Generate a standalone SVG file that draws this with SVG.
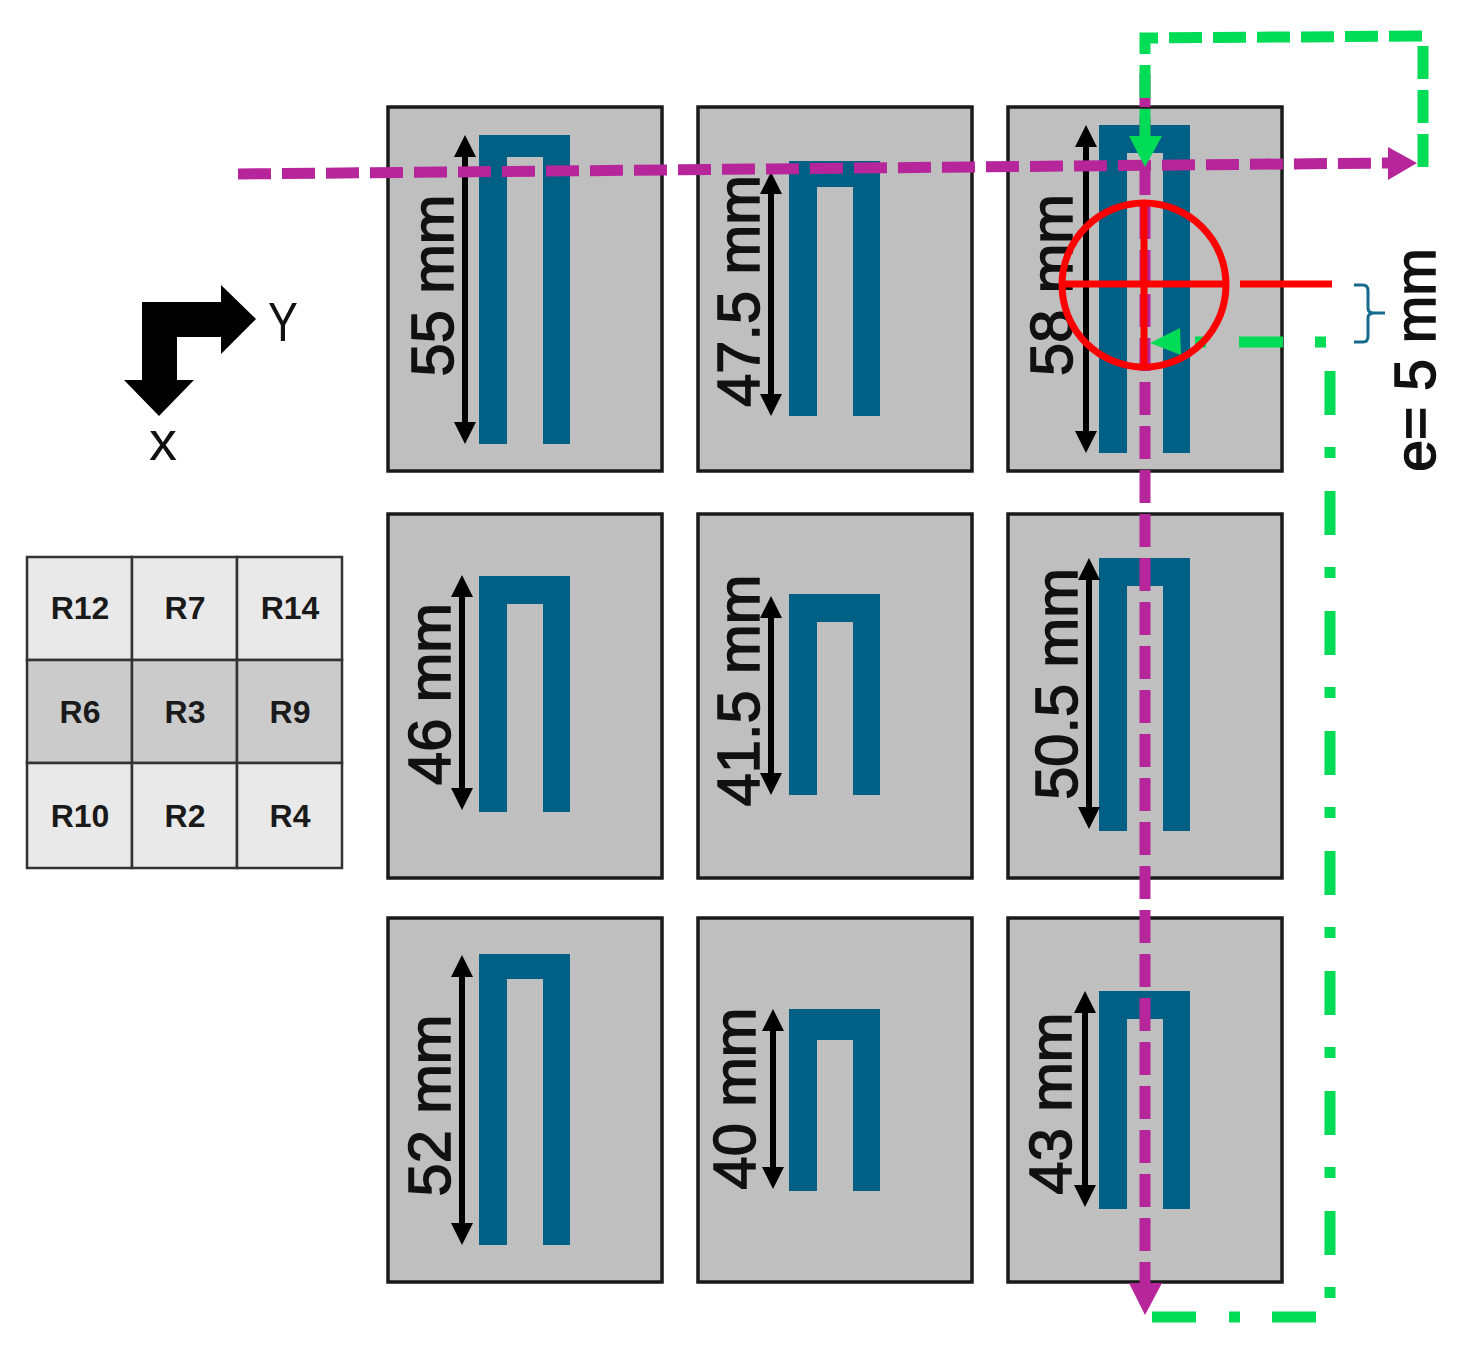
<svg xmlns="http://www.w3.org/2000/svg" width="1461" height="1348" viewBox="0 0 1461 1348">
<style>
.panel{fill:#bfbfbf;stroke:#1a1a1a;stroke-width:3.5}
.u{fill:#005f85}
.dim{fill:none;stroke:#000;stroke-width:6;marker-start:url(#dimHead);marker-end:url(#dimHead)}
.lab{font-family:"Liberation Sans",Arial,sans-serif;font-size:59.5px;fill:#111;stroke:#111;stroke-width:1.5;text-anchor:middle}
.axis{font-family:"Liberation Sans",Arial,sans-serif;font-size:56px;fill:#111}
.cell{stroke:#333;stroke-width:2.5}
.light{fill:#e9e9e9}
.dark{fill:#cbcbcb}
.rt{font-family:"Liberation Sans",Arial,sans-serif;font-size:32px;font-weight:700;fill:#1a1a1a;text-anchor:middle}
.purple{fill:none;stroke:#b7259a;stroke-width:11;stroke-dasharray:33 11}
.pf{fill:#b7259a}
.green{fill:none;stroke:#00dc55;stroke-width:11;stroke-dasharray:33 11}
.gdd{fill:none;stroke:#00dc55;stroke-width:11;stroke-dasharray:11 33 44 32}
.gf{fill:#00dc55}
.red{fill:none;stroke:#ff0000;stroke-width:7}
</style>
<defs>
<marker id="dimHead" markerUnits="userSpaceOnUse" markerWidth="24" markerHeight="24" refX="10" refY="12" orient="auto-start-reverse">
<path d="M0 1 L22 12 L0 23 Z" fill="#000"/>
</marker>
</defs>
<rect width="1461" height="1348" fill="#fff"/>

<g id="panel-r1c1"><rect class="panel" x="388" y="107" width="274" height="364"/><path class="u" d="M479 135H570V444H543V157H507V444H479Z"/><path class="dim" d="M465 147V432"/><text class="lab" transform="translate(453 285.5) rotate(-90)">55 mm</text></g>
<g id="panel-r1c2"><rect class="panel" x="698" y="107" width="274" height="364"/><path class="u" d="M789 161H880V416H853V187H817V416H789Z"/><path class="dim" d="M771 184V404"/><text class="lab" transform="translate(759 291) rotate(-90)">47.5 mm</text></g>
<g id="panel-r1c3"><rect class="panel" x="1008" y="107" width="274" height="364"/><path class="u" d="M1099 125H1190V453H1163V153H1127V453H1099Z"/><path class="dim" d="M1086 137V441"/><text class="lab" transform="translate(1072 285) rotate(-90)">58 mm</text></g>
<g id="panel-r2c1"><rect class="panel" x="388" y="514" width="274" height="364"/><path class="u" d="M479 576H570V812H543V604H507V812H479Z"/><path class="dim" d="M462 587V798"/><text class="lab" transform="translate(450 694) rotate(-90)">46 mm</text></g>
<g id="panel-r2c2"><rect class="panel" x="698" y="514" width="274" height="364"/><path class="u" d="M789 594H880V795H853V622H817V795H789Z"/><path class="dim" d="M771 608V783"/><text class="lab" transform="translate(759 690.5) rotate(-90)">41.5 mm</text></g>
<g id="panel-r2c3"><rect class="panel" x="1008" y="514" width="274" height="364"/><path class="u" d="M1099 558H1190V831H1163V586H1127V831H1099Z"/><path class="dim" d="M1089 570V817"/><text class="lab" transform="translate(1077 684) rotate(-90)">50.5 mm</text></g>
<g id="panel-r3c1"><rect class="panel" x="388" y="918" width="274" height="364"/><path class="u" d="M479 954H570V1245H543V979H507V1245H479Z"/><path class="dim" d="M462 967V1233"/><text class="lab" transform="translate(450 1105.5) rotate(-90)">52 mm</text></g>
<g id="panel-r3c2"><rect class="panel" x="698" y="918" width="274" height="364"/><path class="u" d="M789 1009H880V1191H853V1040H817V1191H789Z"/><path class="dim" d="M773 1021V1177"/><text class="lab" transform="translate(755 1098.5) rotate(-90)">40 mm</text></g>
<g id="panel-r3c3"><rect class="panel" x="1008" y="918" width="274" height="364"/><path class="u" d="M1099 991H1190V1209H1163V1019H1127V1209H1099Z"/><path class="dim" d="M1085 1003V1195"/><text class="lab" transform="translate(1071 1103.5) rotate(-90)">43 mm</text></g>

<g id="axes">
<path d="M142 302H221V285L256 319L221 354V337H177V380H194L159 416L124 380H142Z" fill="#000"/>
<text class="axis" transform="translate(268 341) scale(.8 1)">Y</text>
<text class="axis" x="149" y="460">x</text>
</g>

<g id="table">
<rect class="cell light" x="27" y="557" width="105" height="103"/><rect class="cell light" x="132" y="557" width="105" height="103"/><rect class="cell light" x="237" y="557" width="105" height="103"/>
<rect class="cell dark" x="27" y="660" width="105" height="103"/><rect class="cell dark" x="132" y="660" width="105" height="103"/><rect class="cell dark" x="237" y="660" width="105" height="103"/>
<rect class="cell light" x="27" y="763" width="105" height="105"/><rect class="cell light" x="132" y="763" width="105" height="105"/><rect class="cell light" x="237" y="763" width="105" height="105"/>
<text class="rt" x="80" y="619">R12</text><text class="rt" x="185" y="619">R7</text><text class="rt" x="290" y="619">R14</text>
<text class="rt" x="80" y="723">R6</text><text class="rt" x="185" y="723">R3</text><text class="rt" x="290" y="723">R9</text>
<text class="rt" x="80" y="827">R10</text><text class="rt" x="185" y="827">R2</text><text class="rt" x="290" y="827">R4</text>
</g>

<g id="connectors">
<path class="purple" d="M238 174L1388 163"/>
<polygon class="pf" points="1417,163 1388,147 1388,180"/>
<path class="purple" d="M1145 74V1285"/>
<polygon class="pf" points="1145,1315 1129,1283 1162,1283"/>
<path class="green" d="M1423 167V36L1145 38V54"/>
<path class="green" d="M1145 65V136"/>
<polygon class="gf" points="1145,167 1129,136 1162,136"/>
<path class="gdd" d="M1195 342H1330V1317H1152"/>
<polygon class="gf" points="1150,343 1180,328 1181,355"/>
<path d="M1354 285H1363Q1368 285 1368 291V308Q1368 313 1374 313H1385M1374 313Q1368 313 1368 318V336Q1368 342 1363 342H1354" fill="none" stroke="#156a8e" stroke-width="3"/>
</g>

<g id="probe">
<circle class="red" cx="1144" cy="285" r="82"/>
<path class="red" d="M1062 284H1226M1144 203V367M1240 284H1332"/>
</g>

<text id="eccentricity" class="lab" style="font-size:57px" transform="translate(1435 360) rotate(-90)">e= 5 mm</text>
</svg>
